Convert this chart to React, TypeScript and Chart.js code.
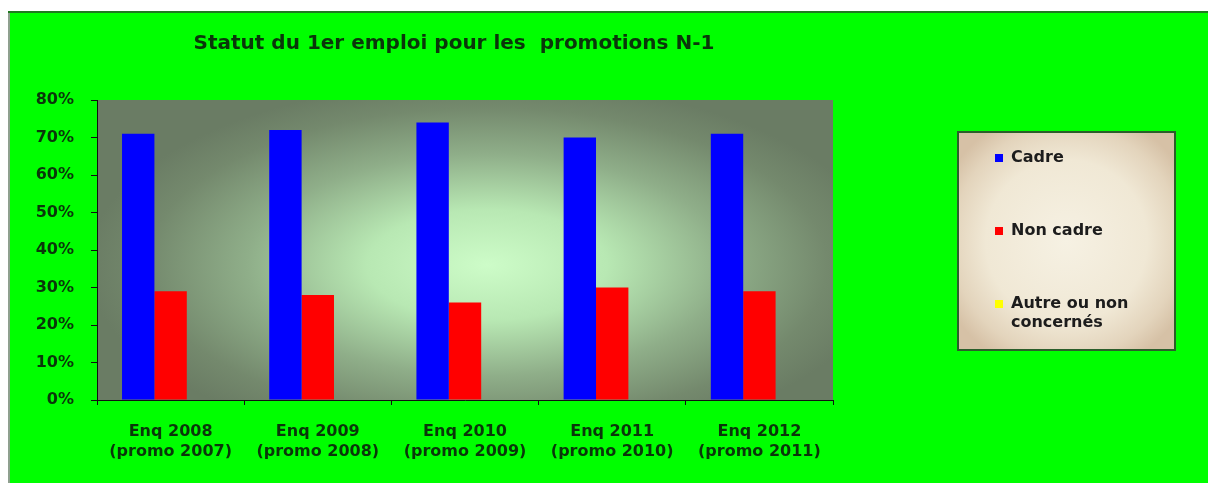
import React, { useEffect, useRef } from "react";
import { Chart, registerables } from "chart.js";

Chart.register(...registerables);

const TITLE = "Statut du 1er emploi pour les  promotions N-1";
const CATEGORIES: string[][] = [
  ["Enq 2008", "(promo 2007)"],
  ["Enq 2009", "(promo 2008)"],
  ["Enq 2010", "(promo 2009)"],
  ["Enq 2011", "(promo 2010)"],
  ["Enq 2012", "(promo 2011)"],
];
const CADRE = [71, 72, 74, 70, 71];
const NON_CADRE = [29, 28, 26, 30, 29];
const AUTRE = [0, 0, 0, 0, 0];
const SERIES_NAMES = ["Cadre", "Non cadre", "Autre ou non concernés"];
const SERIES_COLORS = ["#0000ff", "#ff0000", "#ffff00"];
const Y_TICKS = [0, 10, 20, 30, 40, 50, 60, 70, 80];

const FONT = "'DejaVu Sans', 'Liberation Sans', Arial, sans-serif";
const TEXT_GREEN = "#0a360a";

const backgroundPlugin = {
  id: "bgPlugin",
  beforeDraw(chart: any) {
    const { ctx, width, height, chartArea } = chart;
    ctx.save();
    ctx.fillStyle = "#ffffff";
    ctx.fillRect(0, 0, width, height);
    ctx.fillStyle = "#00ff00";
    ctx.fillRect(9, 11, width - 9, height - 11);
    ctx.fillStyle = "#8fa08f";
    ctx.fillRect(8, 11, 2, height - 11);
    ctx.fillStyle = "#1f7a1f";
    ctx.fillRect(8, 11, width - 8, 2);

    // plot area gradient
    const { left, top, right, bottom } = chartArea;
    const w = right - left;
    const h = bottom - top;
    const cx = left + w * 0.53;
    const cy = top + h * 0.55;
    const rx = 400;
    const ry = 185;
    ctx.save();
    ctx.beginPath();
    ctx.rect(left, top, w, h);
    ctx.clip();
    ctx.fillStyle = "#6a7c64";
    ctx.fillRect(left, top, w, h);
    ctx.translate(cx, cy);
    ctx.scale(rx / ry, 1);
    const g = ctx.createRadialGradient(0, 0, 0, 0, 0, ry);
    g.addColorStop(0, "#cdfcc8");
    g.addColorStop(0.3, "#b8e8b3");
    g.addColorStop(0.6, "#8fae89");
    g.addColorStop(0.85, "#74896d");
    g.addColorStop(1, "#6a7c64");
    ctx.fillStyle = g;
    ctx.fillRect(-w, -h, 2 * w, 2 * h);
    ctx.restore();

    // title
    ctx.fillStyle = TEXT_GREEN;
    ctx.font = `bold 20px ${FONT}`;
    ctx.textAlign = "center";
    ctx.textBaseline = "middle";
    ctx.fillText(TITLE, 454, 44);
    ctx.restore();
  },
  afterDraw(chart: any) {
    const { ctx } = chart;
    const bx = 958, by = 132, bw = 217, bh = 218;
    ctx.save();
    ctx.fillStyle = "#d6c1a6";
    ctx.fillRect(bx, by, bw, bh);
    ctx.translate(bx + bw / 2, by + bh / 2);
    ctx.scale(1, bh / bw);
    const g = ctx.createRadialGradient(0, 0, 0, 0, 0, bw * 0.62);
    g.addColorStop(0, "#f6f1e3");
    g.addColorStop(0.6, "#f0e8d5");
    g.addColorStop(0.85, "#e3d4bc");
    g.addColorStop(1, "#d6c1a6");
    ctx.fillStyle = g;
    ctx.fillRect(-bw / 2, -bw / 2, bw, bw);
    ctx.restore();
    ctx.save();
    ctx.strokeStyle = "#2b5e2b";
    ctx.lineWidth = 2;
    ctx.strokeRect(bx, by, bw, bh);

    ctx.font = `bold 16px ${FONT}`;
    ctx.textAlign = "left";
    ctx.textBaseline = "middle";
    const rows = [158, 231, 304];
    chart.data.datasets.forEach((ds: any, i: number) => {
      const y = rows[i];
      ctx.fillStyle = ds.backgroundColor;
      ctx.fillRect(995, y - 4, 8, 8);
      ctx.fillStyle = "#1c1c1c";
      const words = String(ds.label).split(" ");
      const lines: string[] = [];
      let cur = "";
      words.forEach((wd) => {
        const t = cur ? cur + " " + wd : wd;
        if (ctx.measureText(t).width > 150 && cur) {
          lines.push(cur);
          cur = wd;
        } else cur = t;
      });
      if (cur) lines.push(cur);
      lines.forEach((ln, k) => ctx.fillText(ln, 1011, y + k * 19));
    });
    ctx.restore();
  },
};

export default function App() {
  const ref = useRef<HTMLCanvasElement>(null);
  useEffect(() => {
    if (!ref.current) return;
    const chart = new Chart(ref.current, {
      type: "bar",
      data: {
        labels: CATEGORIES,
        datasets: SERIES_NAMES.map((name, i) => ({
          label: name,
          data: [CADRE, NON_CADRE, AUTRE][i],
          backgroundColor: SERIES_COLORS[i],
          borderWidth: 0,
          categoryPercentage: 0.66,
          barPercentage: 1.0,
        })),
      },
      options: {
        animation: false,
        responsive: false,
        devicePixelRatio: 1,
        layout: { padding: { left: 0, right: 375, top: 100, bottom: 0 } },
        plugins: {
          legend: { display: false },
          title: { display: false },
          tooltip: { enabled: false },
        },
        scales: {
          x: {
            offset: true,
            grid: {
              offset: true,
              drawOnChartArea: false,
              drawTicks: true,
              tickLength: 5,
              color: "#111",
            },
            border: { display: true, color: "#111", width: 1 },
            ticks: {
              color: TEXT_GREEN,
              font: { family: FONT, size: 16, weight: "bold", lineHeight: 1.25 },
              padding: 17,
              maxRotation: 0,
              autoSkip: false,
            },
            afterFit: (s: any) => {
              s.height = 83;
            },
          },
          y: {
            min: 0,
            max: 80,
            afterBuildTicks: (s: any) => {
              s.ticks = Y_TICKS.map((v) => ({ value: v }));
            },
            grid: {
              drawOnChartArea: false,
              drawTicks: true,
              tickLength: 6,
              color: "#111",
            },
            border: { display: true, color: "#111", width: 1 },
            ticks: {
              color: TEXT_GREEN,
              font: { family: FONT, size: 16, weight: "bold" },
              padding: 17,
              callback: (v: any) => `${v}%`,
            },
            afterFit: (s: any) => {
              s.width = 97;
            },
          },
        },
      },
      plugins: [backgroundPlugin],
    });
    return () => chart.destroy();
  }, []);
  return (
    <div style={{ position: "absolute", left: 0, top: 0, width: 1208, height: 483 }}>
      <canvas ref={ref} width={1208} height={483} style={{ display: "block" }} />
    </div>
  );
}
